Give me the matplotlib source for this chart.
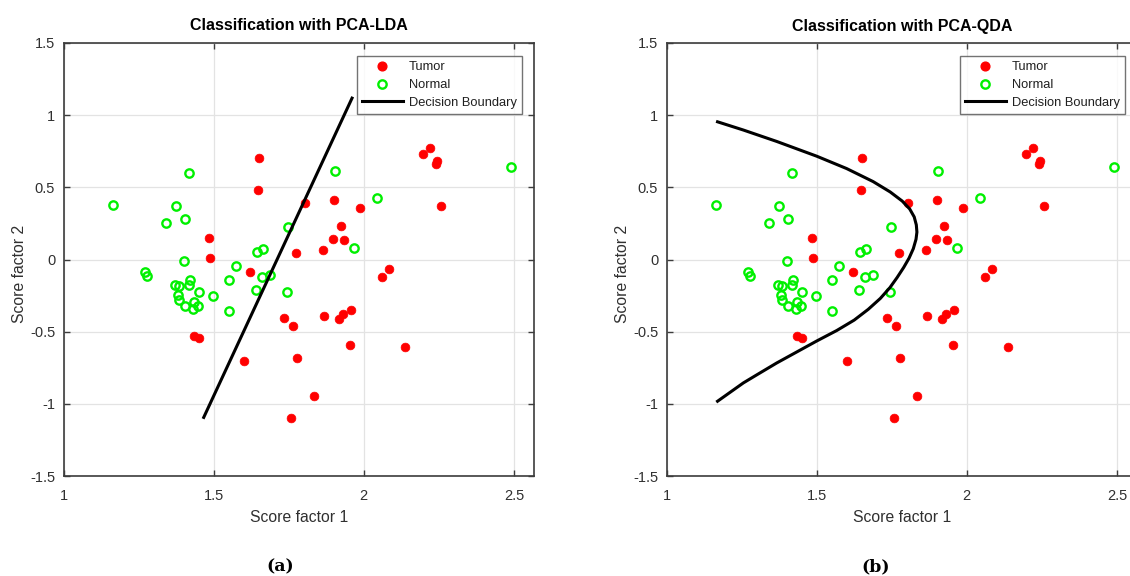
import matplotlib
matplotlib.use("Agg")
import matplotlib.pyplot as plt
from matplotlib.lines import Line2D

# ---------------- data ----------------
tumor_x = [1.650, 1.649, 1.483, 1.488, 1.622, 1.805, 1.775, 1.901, 1.923, 1.899,
           1.933, 1.863, 1.989, 2.196, 2.221, 2.243, 2.239, 2.258, 2.083, 2.061,
           1.733, 1.763, 1.869, 1.918, 1.930, 1.959, 1.955, 2.137, 1.433, 1.452,
           1.601, 1.778, 1.834, 1.757]
tumor_y = [0.703, 0.479, 0.152, 0.012, -0.088, 0.394, 0.046, 0.412, 0.230, 0.143,
           0.138, 0.067, 0.355, 0.728, 0.772, 0.682, 0.661, 0.371, -0.067, -0.122,
           -0.403, -0.459, -0.394, -0.412, -0.380, -0.348, -0.594, -0.608, -0.530, -0.546,
           -0.703, -0.684, -0.945, -1.099]

normal_x = [1.166, 1.418, 1.375, 1.406, 1.342, 1.400, 1.273, 1.277, 1.370, 1.386,
            1.420, 1.418, 1.451, 1.381, 1.384, 1.403, 1.435, 1.431, 1.449, 1.498,
            1.552, 1.574, 1.551, 1.646, 1.665, 1.661, 1.687, 1.640, 1.749, 1.744,
            1.904, 1.969, 2.043, 2.492]
normal_y = [0.380, 0.599, 0.369, 0.283, 0.256, -0.009, -0.085, -0.111, -0.177, -0.182,
            -0.141, -0.180, -0.224, -0.249, -0.279, -0.325, -0.295, -0.341, -0.325, -0.253,
            -0.145, -0.046, -0.355, 0.053, 0.074, -0.122, -0.106, -0.214, 0.224, -0.228,
            0.611, 0.083, 0.426, 0.638]

lda_x = [1.467, 1.961]
lda_y = [-1.094, 1.118]

qda_x = [1.170, 1.256, 1.367, 1.500, 1.600, 1.688, 1.745, 1.785, 1.810, 1.825,
         1.832, 1.834, 1.831, 1.822, 1.808, 1.790, 1.768, 1.744, 1.712, 1.672,
         1.625, 1.567, 1.500, 1.430, 1.367, 1.300, 1.256, 1.170]
qda_y = [0.954, 0.897, 0.818, 0.716, 0.630, 0.540, 0.468, 0.405, 0.350, 0.295,
         0.240, 0.190, 0.140, 0.075, 0.010, -0.055, -0.125, -0.195, -0.270, -0.345,
         -0.420, -0.492, -0.565, -0.645, -0.717, -0.800, -0.855, -0.982]

titles = ["Classification with PCA-LDA", "Classification with PCA-QDA"]
captions = ["(a)", "(b)"]
xticks = [1, 1.5, 2, 2.5]
yticks = [-1.5, -1, -0.5, 0, 0.5, 1, 1.5]
legend_labels = ["Tumor", "Normal", "Decision Boundary"]

# ---------------- style ----------------
plt.rcParams["font.family"] = ["Liberation Sans", "DejaVu Sans"]
AX_COL = "#3c3c3c"
TXT_COL = "#303030"
RED = "#ff0000"
GREEN = "#00f000"

W, H = 1130, 576
fig = plt.figure(figsize=(W / 100, H / 100), dpi=100)

ax_left_px = [63.5, 666.5]
ax_w_px = 470.5
ax_top_px, ax_bot_px = 43, 476

boundaries = [(lda_x, lda_y), (qda_x, qda_y)]

for i in range(2):
    ax = fig.add_axes([ax_left_px[i] / W, (H - ax_bot_px) / H,
                       ax_w_px / W, (ax_bot_px - ax_top_px) / H])
    ax.set_xlim(1, 2.567)
    ax.set_ylim(-1.5, 1.5)
    ax.set_xticks(xticks)
    ax.set_yticks(yticks)
    ax.set_xticklabels([f"{t:g}" for t in xticks])
    ax.set_yticklabels([f"{t:g}" for t in yticks])
    ax.grid(True, color="#e3e3e3", linewidth=0.9)
    ax.set_axisbelow(True)
    for sp in ax.spines.values():
        sp.set_color(AX_COL)
        sp.set_linewidth(1.2)
    ax.tick_params(direction="in", length=4, width=1.0, color=AX_COL,
                   top=True, right=True, labelsize=10.5, labelcolor=TXT_COL)
    ax.tick_params(axis="x", pad=9)
    ax.tick_params(axis="y", pad=6)

    ax.plot(tumor_x, tumor_y, linestyle="none", marker="o", ms=6.3,
            mfc=RED, mec=RED, mew=0.5, zorder=3)
    ax.plot(normal_x, normal_y, linestyle="none", marker="o", ms=6.0,
            mfc="none", mec=GREEN, mew=1.7, zorder=3)
    bx, by = boundaries[i]
    ax.plot(bx, by, color="black", linewidth=2.2, zorder=4,
            solid_joinstyle="round")

    ax.set_title(titles[i], fontsize=11.5, fontweight="bold", pad=9, color="black")
    ax.set_xlabel("Score factor 1", fontsize=11.3, color=TXT_COL)
    ax.set_ylabel("Score factor 2", fontsize=11.3, color=TXT_COL)
    ax.xaxis.set_label_coords(0.5, -0.078)
    ax.yaxis.set_label_coords(-0.078, 0.466)

    handles = [
        Line2D([], [], linestyle="none", marker="o", ms=6.3, mfc=RED, mec=RED),
        Line2D([], [], linestyle="none", marker="o", ms=6.0, mfc="none", mec=GREEN, mew=1.7),
        Line2D([], [], color="black", linewidth=2.2),
    ]
    leg = ax.legend(handles, legend_labels, loc="upper right",
                    bbox_to_anchor=(0.9745, 0.970), borderaxespad=0,
                    fontsize=9.3, frameon=True, fancybox=False, shadow=False,
                    handlelength=3.2, handletextpad=0.45, labelspacing=0.45,
                    borderpad=0.4)
    leg.get_frame().set_edgecolor("#505050")
    leg.get_frame().set_linewidth(1.0)
    for t in leg.get_texts():
        t.set_color("#202020")

fig.text(280 / W, 1 - 566.5 / H, captions[0], ha="center", va="center",
         fontsize=12.5, fontweight="bold", family=["DejaVu Serif"])
fig.text(876 / W, 1 - 566.5 / H, captions[1], ha="center", va="center",
         fontsize=12.5, fontweight="bold", family=["DejaVu Serif"])

fig.savefig("out.png", dpi=100)
